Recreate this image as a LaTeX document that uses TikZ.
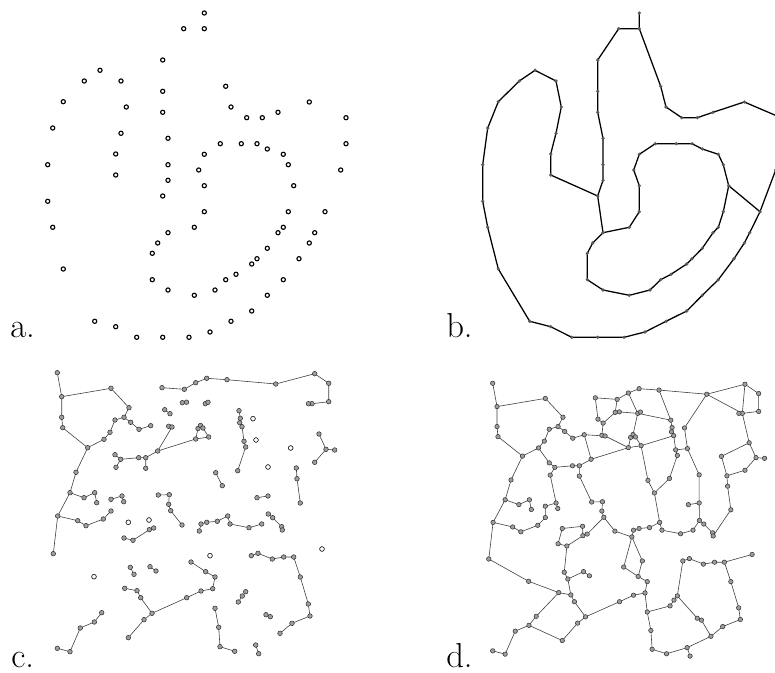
\documentclass[tikz,border=0pt]{standalone}
\usepackage{fontspec}
\newcommand\apts{%
\coordinate (p1) at (183.7,28.7);\coordinate (p2) at (162.7,60);\coordinate (p3) at (100,70.3);
\coordinate (p4) at (84.3,81);\coordinate (p5) at (121,81);\coordinate (p6) at (162.7,91.3);
\coordinate (p7) at (63.3,101.7);\coordinate (p8) at (126.3,107);\coordinate (p9) at (162.7,112.3);
\coordinate (p10) at (52.7,128);\coordinate (p11) at (121,133.3);\coordinate (p12) at (168,138.3);
\coordinate (p13) at (115.7,154);\coordinate (p14) at (47.7,164.7);\coordinate (p15) at (168,164.7);
\coordinate (p16) at (198.7,170);\coordinate (p17) at (115.7,175);\coordinate (p18) at (168,180.3);
\coordinate (p19) at (162.7,196);\coordinate (p20) at (47.7,201.3);\coordinate (p21) at (52.7,227.3);
\coordinate (p22) at (194.3,227.3);\coordinate (p23) at (168,232.7);\coordinate (p24) at (157.7,243);
\coordinate (p25) at (152.3,253.3);\coordinate (p26) at (63.3,269);\coordinate (p27) at (152.3,279.7);
\coordinate (p28) at (168,290);\coordinate (p29) at (194.3,295.3);\coordinate (p30) at (94.7,321.3);
\coordinate (p31) at (115.7,326.7);\coordinate (p32) at (136.7,337.3);\coordinate (p33) at (162.7,337.3);
\coordinate (p34) at (189,337.3);\coordinate (p35) at (204.3,13);\coordinate (p36) at (204.3,28.7);
\coordinate (p37) at (225.7,86.3);\coordinate (p38) at (309.3,102);\coordinate (p39) at (231,107);
\coordinate (p40) at (278,112.3);\coordinate (p41) at (246.7,117.7);\coordinate (p42) at (262.3,117.7);
\coordinate (p43) at (346,117.7);\coordinate (p44) at (220.3,143.7);\coordinate (p45) at (241.3,143.7);
\coordinate (p46) at (257,143.7);\coordinate (p47) at (346,143.7);\coordinate (p48) at (267.3,149);
\coordinate (p49) at (204.3,154.3);\coordinate (p50) at (283.3,154.3);\coordinate (p51) at (288.3,164.7);
\coordinate (p52) at (340.7,170);\coordinate (p53) at (204.3,185.7);\coordinate (p54) at (293.7,185.7);
\coordinate (p55) at (204.3,211.7);\coordinate (p56) at (288.3,211.7);\coordinate (p57) at (325,211.7);
\coordinate (p58) at (283.3,227.3);\coordinate (p59) at (278,232.7);\coordinate (p60) at (314.7,232.7);
\coordinate (p61) at (309.3,243);\coordinate (p62) at (267.3,248.3);\coordinate (p63) at (257,258.7);
\coordinate (p64) at (299,258.7);\coordinate (p65) at (251.7,264);\coordinate (p66) at (236,274.3);
\coordinate (p67) at (225.7,279.7);\coordinate (p68) at (283.3,279.7);\coordinate (p69) at (215,290);
\coordinate (p70) at (267.3,295.3);\coordinate (p71) at (251.7,311);\coordinate (p72) at (231,321.3);
\coordinate (p73) at (210,332);}
\newcommand\cpts{%
\coordinate (c1) at (57.3,372.7);\coordinate (c2) at (61.7,396.7);\coordinate (c3) at (111,388.3);
\coordinate (c4) at (129,407.7);\coordinate (c5) at (124,417.3);\coordinate (c6) at (115,420);
\coordinate (c7) at (130.7,422.3);\coordinate (c8) at (139,429.3);\coordinate (c9) at (150.7,425.7);
\coordinate (c10) at (110,432.3);\coordinate (c11) at (104,439.3);\coordinate (c12) at (61.7,417.3);
\coordinate (c13) at (62.7,427.7);\coordinate (c14) at (87.7,447.7);\coordinate (c15) at (76,472.3);
\coordinate (c16) at (70,492.7);\coordinate (c17) at (84,497.7);\coordinate (c18) at (94.7,492.7);
\coordinate (c19) at (96.7,502.7);\coordinate (c20) at (57.7,516);\coordinate (c21) at (53.3,553.7);
\coordinate (c22) at (77.7,520.7);\coordinate (c23) at (86,525.7);\coordinate (c24) at (103.3,519);
\coordinate (c25) at (111,511);\coordinate (c26) at (162,387.7);\coordinate (c27) at (184.3,389.3);
\coordinate (c28) at (195.7,382.7);\coordinate (c29) at (206.7,378.3);\coordinate (c30) at (227,379.7);
\coordinate (c31) at (275.7,384);\coordinate (c32) at (314.7,373.7);\coordinate (c33) at (328.7,383.3);
\coordinate (c34) at (328.7,401.7);\coordinate (c35) at (312,403.7);\coordinate (c36) at (308.5,403.7);
\coordinate (c37) at (182.3,402.7);\coordinate (c38) at (186.5,402.2);\coordinate (c39) at (164.7,409.7);
\coordinate (c40) at (170,413.7);\coordinate (c41) at (168.7,426.3);\coordinate (c42) at (172,427);
\coordinate (c43) at (157.7,451);\coordinate (c44) at (195.7,439);\coordinate (c45) at (198,428.5);
\coordinate (c46) at (200.5,425.5);\coordinate (c47) at (208.7,437);\coordinate (c48) at (205.3,403.7);
\coordinate (c49) at (208,402.3);\coordinate (c50) at (239,410.7);\coordinate (c51) at (240.3,418.3);
\coordinate (c52) at (239.7,422.7);\coordinate (c53) at (242,426.7);\coordinate (c54) at (244,441.3);
\coordinate (c55) at (245.7,447);\coordinate (c56) at (237.7,470.7);\coordinate (c57) at (253,418.7);
\coordinate (c58) at (256,440);\coordinate (c59) at (319,434);\coordinate (c60) at (326,449.3);
\coordinate (c61) at (334.7,450);\coordinate (c62) at (314.7,462.3);\coordinate (c63) at (290.7,448);
\coordinate (c64) at (268,467);\coordinate (c65) at (296.3,468);\coordinate (c66) at (297,478.7);
\coordinate (c67) at (300.3,503);\coordinate (c68) at (215.7,472.7);\coordinate (c69) at (222.3,485.7);
\coordinate (c70) at (257,497.7);\coordinate (c71) at (268,496);\coordinate (c72) at (268.3,514);
\coordinate (c73) at (272.7,517.7);\coordinate (c74) at (281.7,526.7);\coordinate (c75) at (282.3,530);
\coordinate (c76) at (115,454.7);\coordinate (c77) at (120.7,459.3);\coordinate (c78) at (116,467.3);
\coordinate (c79) at (138.7,457.7);\coordinate (c80) at (145.7,457.7);\coordinate (c81) at (145.7,468.3);
\coordinate (c82) at (111,499.3);\coordinate (c83) at (203,428);\coordinate (c84) at (122,496);
\coordinate (c85) at (123.7,501.7);\coordinate (c86) at (158.3,495);\coordinate (c87) at (169.3,494.7);
\coordinate (c88) at (168.7,504.3);\coordinate (c89) at (170.7,510.7);\coordinate (c90) at (182,525);
\coordinate (c91) at (128.3,522.3);\coordinate (c92) at (149,520);\coordinate (c93) at (124,538);
\coordinate (c94) at (133,540.3);\coordinate (c95) at (149.3,529.7);\coordinate (c96) at (153.7,528);
\coordinate (c97) at (130.3,567.3);\coordinate (c98) at (134,574.3);\coordinate (c99) at (150,566.7);
\coordinate (c100) at (156,571);\coordinate (c101) at (94,576.7);\coordinate (c102) at (124.7,588.3);
\coordinate (c103) at (137,590.7);\coordinate (c104) at (140.7,597.7);\coordinate (c105) at (152,613.3);
\coordinate (c106) at (144,619.7);\coordinate (c107) at (128.3,637.7);\coordinate (c108) at (186.7,597.7);
\coordinate (c109) at (201,591);\coordinate (c110) at (212.7,588.7);\coordinate (c111) at (215,577);
\coordinate (c112) at (205.7,571.7);\coordinate (c113) at (191,562);\coordinate (c114) at (101.7,612.7);
\coordinate (c115) at (94.3,622);\coordinate (c116) at (80.3,628);\coordinate (c117) at (70,651.7);
\coordinate (c118) at (57.3,648.3);\coordinate (c119) at (199.3,531);\coordinate (c120) at (201,524);
\coordinate (c121) at (206.7,522.3);\coordinate (c122) at (217.3,521.3);\coordinate (c123) at (227.7,516);
\coordinate (c124) at (230,524);\coordinate (c125) at (249,527.7);\coordinate (c126) at (261.7,524);
\coordinate (c127) at (210,555.7);\coordinate (c128) at (322,549);\coordinate (c129) at (251.3,555.7);
\coordinate (c130) at (258,553.3);\coordinate (c131) at (272.3,559);\coordinate (c132) at (283.7,557);
\coordinate (c133) at (293.7,557);\coordinate (c134) at (300.3,577);\coordinate (c135) at (308.3,604);
\coordinate (c136) at (310,616);\coordinate (c137) at (292,623.3);\coordinate (c138) at (280,633.3);
\coordinate (c139) at (245.7,591.7);\coordinate (c140) at (242.3,596);\coordinate (c141) at (238.3,602);
\coordinate (c142) at (266,614.7);\coordinate (c143) at (270.3,616.7);\coordinate (c144) at (215,608.3);
\coordinate (c145) at (218.7,627.3);\coordinate (c146) at (220,646.7);\coordinate (c147) at (234.7,651.3);
\coordinate (c148) at (255.7,645);\coordinate (c149) at (258.7,653.7);}
\begin{document}
\begin{tikzpicture}[x=0.75pt,y=-0.75pt,
  adot/.style={draw=black,line width=0.85pt,fill=white},
  bline/.style={line width=0.95pt,black,line join=round},
  bdot/.style={fill=black!65},
  cline/.style={line width=0.45pt,black!75},
  cdot/.style={draw=black!80,line width=0.4pt,fill=black!38},
  cdoti/.style={draw=black!85,line width=0.45pt,fill=white},
  lab/.style={anchor=base west,inner sep=0pt,font=\fontsize{26}{30}\selectfont}]
\useasboundingbox (0,0) rectangle (775,673);
\clip (0,0) rectangle (775,673);
% ---------- a ----------
\begin{scope}
\apts
\foreach \i in {1,...,73} \draw[adot] (p\i) circle[radius=2.1];
\end{scope}
\node[lab] (la) at (10,338) {a.};
% ---------- b ----------
\begin{scope}[shift={(435,0)}]
\apts
\draw[bline] (p35)--(p36)--(p37)--(p39)--(p41)--(p42)--(p40)--(p38)--(p43)--(p47)--(p52)--(p57)--(p60)--(p61)--(p64)--(p68)--(p70)--(p71)--(p72)--(p73)--(p34)--(p33)--(p32)--(p31)--(p30)--(p26)--(p21)--(p20)--(p14)--(p10)--(p7)--(p4)--(p3)--(p5)--(p8)--(p11)--(p13)--(p17)--(p19)--(p18)--(p15)--(p12)--(p9)--(p6)--(p2)--(p1)--(p36);
\draw[bline] (p23)--(p24)--(p25)--(p27)--(p28)--(p29)--(p69)--(p67)--(p66)--(p65)--(p63)--(p62)--(p59)--(p58)--(p56)--(p54)--(p51)--(p50)--(p48)--(p46)--(p45)--(p44)--(p49)--(p16)--(p53)--(p55)--(p22)--cycle;
\draw[bline] (p19)--(p23) (p54)--(p57);
\foreach \i in {1,...,73} \fill[bdot] (p\i) circle[radius=1.8];
\end{scope}
\node[lab] (lb) at (446,338) {b.};
% ---------- c ----------
\begin{scope}
\cpts
\draw[cline] (c1)--(c2)--(c3)--(c4)--(c5)--(c6)--(c10)--(c11)--(c14);
\draw[cline] (c5)--(c7)--(c8)--(c9);
\draw[cline] (c2)--(c12)--(c13)--(c14)--(c15)--(c16)--(c20)--(c21);
\draw[cline] (c16)--(c17)--(c18)--(c19);
\draw[cline] (c20)--(c22)--(c23)--(c24)--(c25);
\draw[cline] (c82)--(c84)--(c85);
\draw[cline] (c26)--(c27)--(c28)--(c29)--(c30)--(c31)--(c32)--(c33)--(c34)--(c35)--(c36);
\draw[cline] (c37)--(c38) (c39)--(c40) (c41)--(c42)--(c43)--(c44)--(c45)--(c46)--(c83)--(c47)--(c44);
\draw[cline] (c48)--(c49);
\draw[cline] (c50)--(c51)--(c52)--(c53)--(c54)--(c55)--(c56);
\draw[cline] (c59)--(c60)--(c61) (c60)--(c62);
\draw[cline] (c65)--(c66)--(c67) (c68)--(c69) (c70)--(c71) (c72)--(c73)--(c74)--(c75);
\draw[cline] (c76)--(c77)--(c79)--(c80)--(c43) (c80)--(c81) (c77)--(c78);
\draw[cline] (c86)--(c87)--(c88)--(c89)--(c90);
\draw[cline] (c93)--(c94)--(c95)--(c96) (c97)--(c98) (c99)--(c100);
\draw[cline] (c102)--(c103)--(c104)--(c105)--(c106)--(c107) (c105)--(c108)--(c109)--(c110)--(c111)--(c112)--(c113);
\draw[cline] (c114)--(c115)--(c116)--(c117)--(c118);
\draw[cline] (c119)--(c120)--(c121)--(c122)--(c123)--(c124)--(c125)--(c126);
\draw[cline] (c129)--(c130)--(c131)--(c132)--(c133)--(c134)--(c135)--(c136)--(c137)--(c138);
\draw[cline] (c139)--(c140)--(c141) (c142)--(c143);
\draw[cline] (c144)--(c145)--(c146)--(c147) (c148)--(c149);
\foreach \i in {1,...,149} \draw[cdot] (c\i) circle[radius=2.3];
\foreach \i in {57,58,63,64,91,92,101,127,128} \draw[cdoti] (c\i) circle[radius=2.3];
\end{scope}
\node[lab] (lc) at (11,667) {c.};
% ---------- d ----------
\begin{scope}[shift={(436.55,21.4)},xscale=0.98,yscale=0.971]
\cpts
\draw[cline] (c1)--(c2)--(c3)--(c4)--(c5)--(c6)--(c10)--(c11)--(c14);
\draw[cline] (c5)--(c7)--(c8)--(c9)--(c43);
\draw[cline] (c2)--(c12)--(c13)--(c14)--(c15)--(c16)--(c20)--(c21)--(c101)--(c102)--(c103)--(c104)--(c105)--(c106)--(c107)--(c115);
\draw[cline] (c16)--(c17)--(c18)--(c19);
\draw[cline] (c20)--(c22)--(c23)--(c24)--(c25)--(c82)--(c84)--(c85);
\draw[cline] (c11)--(c76)--(c77)--(c79)--(c80)--(c43)--(c44)--(c45)--(c46)--(c83)--(c47)--(c44);
\draw[cline] (c80)--(c81)--(c86)--(c87)--(c88)--(c89)--(c90)--(c119);
\draw[cline] (c77)--(c78)--(c84);
\draw[cline] (c9)--(c42)--(c41)--(c40)--(c39)--(c26)--(c27)--(c28)--(c29)--(c30)--(c31)--(c32)--(c33)--(c34)--(c35)--(c36);
\draw[cline] (c40)--(c37)--(c38)--(c48)--(c49) (c37)--(c27) (c28)--(c48)--(c46);
\draw[cline] (c30)--(c50)--(c51)--(c52)--(c53)--(c54)--(c55)--(c56)--(c69) (c48)--(c50);
\draw[cline] (c54)--(c58)--(c57)--(c31) (c31)--(c35)--(c59)--(c60)--(c61) (c32)--(c35);
\draw[cline] (c60)--(c62)--(c65)--(c66)--(c67)--(c75)--(c74)--(c73)--(c72);
\draw[cline] (c59)--(c63)--(c65);
\draw[cline] (c47)--(c53) (c47)--(c68)--(c69)--(c123);
\draw[cline] (c58)--(c64)--(c71)--(c72)--(c126) (c70)--(c71) (c42)--(c44);
\draw[cline] (c102)--(c114)--(c115)--(c116)--(c117)--(c118);
\draw[cline] (c91)--(c92)--(c95)--(c96)--(c89) (c91)--(c93)--(c94)--(c95) (c94)--(c97)--(c98)--(c99)--(c100) (c98)--(c103);
\draw[cline] (c105)--(c108)--(c109)--(c110)--(c111)--(c112)--(c113)--(c119) (c119)--(c127)--(c112);
\draw[cline] (c119)--(c120)--(c121)--(c122)--(c123)--(c124)--(c125)--(c126);
\draw[cline] (c110)--(c144)--(c145)--(c146)--(c147)--(c148)--(c149) (c148)--(c138);
\draw[cline] (c144)--(c141)--(c140)--(c139)--(c129)--(c130)--(c131)--(c132)--(c133)--(c134)--(c135)--(c136)--(c137)--(c138);
\draw[cline] (c139)--(c142)--(c143)--(c138) (c133)--(c128);
\foreach \i in {1,...,149} \draw[cdot] (c\i) circle[radius=2.3];
\end{scope}
\node[lab] (ld) at (446,667) {d.};
\end{tikzpicture}
\end{document}
